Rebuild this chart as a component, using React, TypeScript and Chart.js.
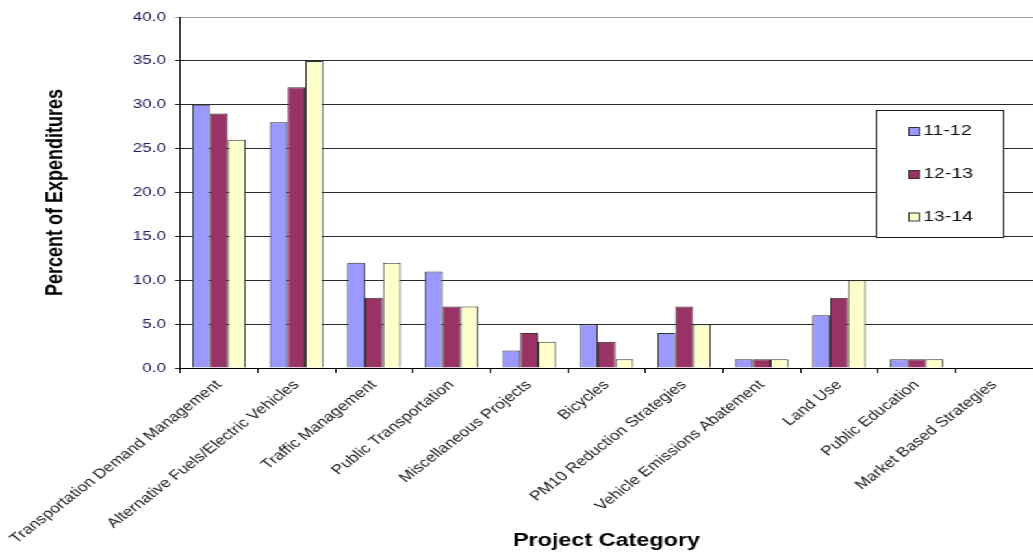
import React, { useEffect, useRef } from 'react';
import { Chart, registerables } from 'chart.js';

Chart.register(...registerables);

const categories = [
  'Transportation Demand Management',
  'Alternative Fuels/Electric Vehicles',
  'Traffic Management',
  'Public Transportation',
  'Miscellaneous Projects',
  'Bicycles',
  'PM10 Reduction Strategies',
  'Vehicle Emissions Abatement',
  'Land Use',
  'Public Education',
  'Market Based Strategies',
];

const seriesLabels = ['11-12', '12-13', '13-14'];
const values1112 = [30, 28, 12, 11, 2, 5, 4, 1, 6, 1, 0];
const values1213 = [29, 32, 8, 7, 4, 3, 7, 1, 8, 1, 0];
const values1314 = [26, 35, 12, 7, 3, 1, 5, 1, 10, 1, 0];
const seriesColors = ['#9999FF', '#993366', '#FFFFCC'];

const yMin = 0;
const yMax = 40;
const yStep = 5;

const yTitle = 'Percent of Expenditures';
const xTitle = 'Project Category';

const FONT = "'Liberation Sans', Arial, Helvetica, sans-serif";
const CANVAS_W = 795;
const CANVAS_H = 554;
const STRETCH = 1033 / CANVAS_W;

const boxLegend = {
  id: 'boxLegend',
  afterDraw(chart: any, _args: any, opts: any) {
    const ctx = chart.ctx;
    const { x, y, width, height, itemY, boxX, textX, boxSize, font } = opts;
    ctx.save();
    ctx.fillStyle = '#ffffff';
    ctx.fillRect(x, y, width, height);
    ctx.strokeStyle = '#1a1a1a';
    ctx.lineWidth = 1;
    ctx.strokeRect(x + 0.5, y + 0.5, width, height);
    chart.data.datasets.forEach((ds: any, i: number) => {
      const cy = itemY[i];
      ctx.fillStyle = ds.backgroundColor;
      ctx.fillRect(boxX, cy - boxSize / 2, boxSize, boxSize);
      ctx.strokeStyle = '#333333';
      ctx.strokeRect(boxX + 0.5, cy - boxSize / 2 + 0.5, boxSize, boxSize);
      ctx.fillStyle = '#111111';
      ctx.font = font;
      ctx.textBaseline = 'middle';
      ctx.textAlign = 'left';
      ctx.fillText(ds.label, textX, cy);
    });
    ctx.restore();
  },
};

export default function App() {
  const canvasRef = useRef<HTMLCanvasElement | null>(null);

  useEffect(() => {
    if (!canvasRef.current) return;
    Chart.defaults.font.family = FONT;
    const seriesValues = [values1112, values1213, values1314];
    const chart = new Chart(canvasRef.current, {
      type: 'bar',
      data: {
        labels: categories,
        datasets: seriesLabels.map((label, i) => ({
          label,
          data: seriesValues[i],
          backgroundColor: seriesColors[i],
          borderColor: '#333333',
          borderWidth: 1,
          categoryPercentage: 0.69,
          barPercentage: 1.0,
        })),
      },
      options: {
        responsive: false,
        maintainAspectRatio: false,
        animation: false,
        devicePixelRatio: 1,
        layout: { padding: { top: 17, right: 0, bottom: 0, left: 0 } },
        plugins: {
          legend: { display: false },
          tooltip: { enabled: false },
          boxLegend: {
            x: 674,
            y: 110,
            width: 98,
            height: 127,
            itemY: [131, 174, 216.5],
            boxX: 699,
            textX: 710.5,
            boxSize: 8,
            font: `15px ${FONT}`,
          },
        } as any,
        scales: {
          x: {
            offset: true,
            grid: {
              display: true,
              drawOnChartArea: false,
              drawTicks: true,
              tickLength: 5,
              color: '#000000',
              offset: true,
            },
            border: { display: true, color: '#000000', width: 1 },
            ticks: {
              autoSkip: false,
              maxRotation: 45,
              minRotation: 45,
              padding: 4,
              color: '#1a1a1a',
              font: { size: 13.5, family: FONT },
            },
            title: {
              display: true,
              text: xTitle,
              color: '#000000',
              font: { size: 18, weight: 'bold', family: FONT },
              padding: { top: 0, bottom: 2 },
            },
            afterFit(scale: any) {
              scale.height = 186;
            },
          },
          y: {
            min: yMin,
            max: yMax,
            ticks: {
              stepSize: yStep,
              padding: 7,
              color: '#1c1c5a',
              font: { size: 13, family: FONT },
              callback: (v: any) => Number(v).toFixed(1),
            },
            grid: {
              drawTicks: true,
              tickLength: 4,
              color: (c: any) => (c.tick && c.tick.value === yMax ? '#a0a0a0' : '#2a2a2a'),
              lineWidth: 1,
            },
            border: { display: true, color: '#000000', width: 1 },
            title: {
              display: true,
              text: yTitle,
              color: '#000000',
              font: { size: 18, weight: 'bold', family: FONT },
              padding: { top: 30, bottom: 0 },
            },
            afterFit(scale: any) {
              scale.width = 136.4;
            },
          },
        },
      },
      plugins: [boxLegend],
    });
    return () => chart.destroy();
  }, []);

  return (
    <div
      style={{
        position: 'fixed',
        left: 0,
        top: 0,
        width: CANVAS_W,
        height: CANVAS_H,
        transform: `scaleX(${STRETCH})`,
        transformOrigin: '0 0',
        background: '#ffffff',
      }}
    >
      <canvas ref={canvasRef} width={CANVAS_W} height={CANVAS_H} />
    </div>
  );
}
